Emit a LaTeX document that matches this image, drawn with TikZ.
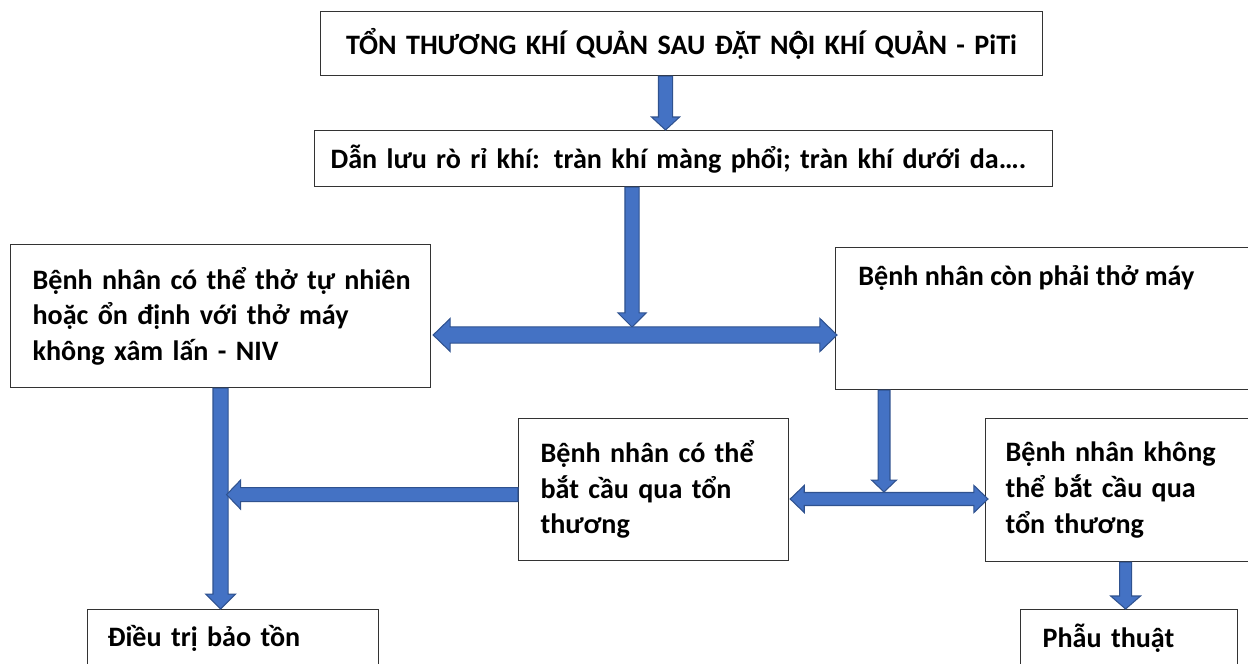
\documentclass[tikz,border=0pt]{standalone}
\usepackage{fontspec}
\setmainfont{Carlito}
\usetikzlibrary{calc}

\definecolor{arrowfill}{HTML}{4472C4}
\definecolor{arrowedge}{HTML}{2F528F}

\tikzset{
    box/.style={draw=black!80, line width=0.7pt, anchor=north west, align=left,
        inner ysep=0pt, font=\fontsize{16pt}{20.3pt}\selectfont\bfseries},
    boxtext/.style={anchor=west, inner sep=0pt, font=\fontsize{16pt}{20.3pt}\selectfont\bfseries},
    blockarrow/.style={fill=arrowfill, draw=arrowedge, line width=0.6pt, line join=miter}
}

% block arrows: start, end, shaft half width, head half width, head length
\newcommand{\downblock}[5]{%
    \filldraw[blockarrow] let \p1=#1, \p2=#2 in
        (\x1-#3,\y1) -- (\x1-#3,\y2+#5) -- (\x1-#4,\y2+#5) -- (\x1,\y2)
        -- (\x1+#4,\y2+#5) -- (\x1+#3,\y2+#5) -- (\x1+#3,\y1) -- cycle;}
\newcommand{\leftblock}[5]{%
    \filldraw[blockarrow] let \p1=#1, \p2=#2 in
        (\x1,\y1+#3) -- (\x2+#5,\y1+#3) -- (\x2+#5,\y1+#4) -- (\x2,\y1)
        -- (\x2+#5,\y1-#4) -- (\x2+#5,\y1-#3) -- (\x1,\y1-#3) -- cycle;}
\newcommand{\doubleblock}[5]{%
    \filldraw[blockarrow] let \p1=#1, \p2=#2 in
        (\x1,\y1) -- (\x1+#5,\y1+#4) -- (\x1+#5,\y1+#3) -- (\x2-#5,\y1+#3)
        -- (\x2-#5,\y1+#4) -- (\x2,\y1) -- (\x2-#5,\y1-#4) -- (\x2-#5,\y1-#3)
        -- (\x1+#5,\y1-#3) -- (\x1+#5,\y1-#4) -- cycle;}
% O with circumflex and dot below, stacked by hand
\newcommand{\Ohatdot}{\rlap{Ọ}Ô}

\begin{document}
\begin{tikzpicture}[x=0.02cm, y=-0.02cm]
    \useasboundingbox (0,0) rectangle (1248,663);

    % boxes
    \node[box, align=center, text width=14.44cm, inner xsep=0pt, minimum height=1.28cm] (piti) at (320,11)
        {\mbox{TỔN THƯƠNG KHÍ QUẢN SAU ĐẶT N\Ohatdot I KHÍ QUẢN - PiTi}};
    \node[box, text width=14.12cm, inner xsep=0.32cm, minimum height=1.12cm] (leak) at (314,130)
        {\mbox{Dẫn lưu rò rỉ khí: tràn khí màng phổi; tràn khí dưới da….}};
    \node[box, text width=7.52cm, inner xsep=0.44cm, minimum height=2.86cm] (niv) at (10,244)
        {\mbox{Bệnh nhân có thể thở tự nhiên}\\\mbox{hoặc ổn định với thở máy}\\\mbox{không xâm lấn - NIV}};
    \node[box, text width=8.5cm, inner xsep=0pt, minimum height=2.84cm] (vent) at (835,247) {};
    \node[boxtext] (venttext) at ($(vent.north west)+(23,31)$) {Bệnh nhân còn phải thở máy};
    \node[box, text width=4.52cm, inner xsep=0.44cm, minimum height=2.84cm] (bridge) at (518,418)
        {\mbox{Bệnh nhân có thể}\\\mbox{bắt cầu qua tổn}\\thương};
    \node[box, text width=4.8cm, inner xsep=0.4cm, minimum height=2.86cm] (nobridge) at (985,418)
        {\mbox{Bệnh nhân không}\\\mbox{thể bắt cầu qua}\\\mbox{tổn thương}};
    \node[box, text width=3.46cm, inner xsep=0.44cm, minimum height=1.16cm] (surgery) at (1020,609)
        {Phẫu thuật};
    \node[box, text width=5.02cm, inner xsep=0.4cm, minimum height=1.16cm] (conserve) at (87,609)
        {Điều trị bảo tồn};

    % forks of the double arrows
    \coordinate (fork1) at (632,335);
    \coordinate (fork2) at (884,499);

    % arrows
    \downblock{($(piti.south)+(-16,0)$)}{($(leak.north)+(-16,0)$)}{4pt}{8pt}{7.4pt}
    \downblock{(leak.south -| fork1)}{($(fork1)+(0,-8)$)}{4pt}{8pt}{8pt}
    \doubleblock{($(niv.east |- fork1)+(2,0)$)}{($(vent.west |- fork1)+(2,0)$)}{4.6pt}{9.4pt}{9.7pt}
    \downblock{(niv.south)}{(conserve.north -| niv.south)}{4.3pt}{8.5pt}{8.5pt}
    \leftblock{($(bridge.west)+(0,5)$)}{($(bridge.west -| niv.south)+(6,5)$)}{4pt}{8.3pt}{8pt}
    \downblock{(vent.south -| fork2)}{($(fork2)+(0,-7)$)}{3.4pt}{7.1pt}{6.8pt}
    \doubleblock{($(bridge.east |- fork2)+(1,0)$)}{($(nobridge.west |- fork2)+(3,0)$)}{3.7pt}{7.7pt}{8pt}
    \downblock{(nobridge.south)}{(surgery.north -| nobridge.south)}{3.4pt}{8.5pt}{7.4pt}
\end{tikzpicture}
\end{document}
